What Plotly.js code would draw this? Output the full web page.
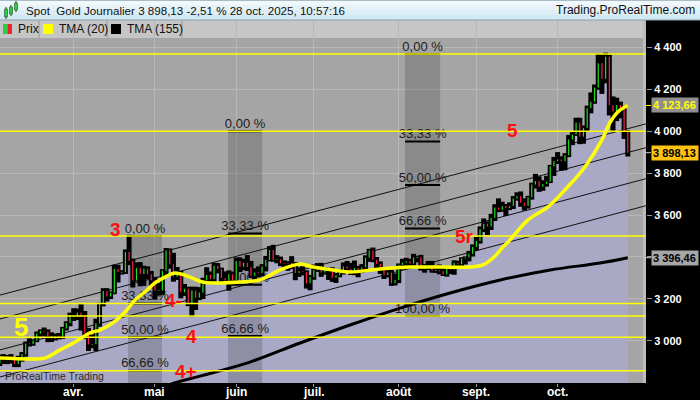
<!DOCTYPE html>
<html><head><meta charset="utf-8">
<script src="https://cdn.plot.ly/plotly-3.0.1.min.js"></script>
<style>html,body{margin:0;padding:0;background:#000;}#chart{width:700px;height:400px;}</style>
</head><body><div id="chart"></div>
<script>
// ---- daily candles, 3 Mar 2025 (index 0) .. 28 Oct 2025 (index 171), one per weekday ----
const openP = [2858,2893,2918,2920,2910,2910,2889,2916,2935,2987,2984,3001,3034,3047,3044,3023,3011,3020,3019,3058,3085,
3123,3114,3134,3114,3037,2982,2983,3083,3175,3237,3211,3229,3343,3327,3327,3424,3381,3288,3348,3319,3344,3317,
3289,3239,3240,3334,3431,3365,3306,3325,3231,3248,3178,3240,3205,3230,3290,3314,3295,3358,3342,3300,3288,3318,
3289,3381,3353,3373,3352,3310,3326,3323,3355,3386,3433,3385,3389,3370,3369,3368,3368,3324,3332,3328,3274,
3303,3338,3357,3326,3337,3334,3301,3313,3324,3355,3344,3324,3347,3339,3350,3397,3431,3387,3368,3337,3314,3326,3274,
3290,3363,3373,3380,3368,3397,3398,3343,3348,3356,3335,3336,3332,3316,3347,3339,3372,3365,3393,3397,3416,
3448,3476,3533,3559,3545,3587,3636,3626,3642,3634,3643,3679,3690,3659,3644,3685,3746,3763,3736,3749,3759,3833,
3858,3866,3857,3886,3961,3985,4042,3975,4017,4110,4142,4209,4325,4251,4356,4125,4095,4126,4112,3998];
const highP = [2893,2928,2930,2926,2930,2915,2922,2940,2990,3005,3001,3038,3048,3057,3048,3034,3028,3031,3060,3087,3128,
3149,3148,3168,3136,3055,3023,3099,3175,3245,3245,3230,3357,3357,3331,3430,3500,3386,3368,3370,3352,3349,3327,
3299,3269,3336,3437,3435,3414,3346,3327,3265,3252,3252,3252,3250,3295,3345,3325,3366,3365,3343,3325,3330,3324,
3392,3392,3385,3403,3375,3340,3349,3360,3399,3446,3452,3403,3396,3378,3374,3398,3370,3345,3350,3330,3308,
3358,3365,3366,3345,3342,3345,3317,3336,3368,3375,3366,3377,3352,3360,3402,3433,3439,3394,3373,3345,3334,3334,3315,
3363,3385,3390,3385,3409,3400,3404,3358,3375,3375,3348,3358,3345,3350,3351,3378,3376,3393,3397,3423,3454,
3490,3540,3578,3564,3600,3646,3674,3658,3647,3655,3685,3703,3707,3674,3686,3749,3791,3779,3761,3782,3834,3872,
3895,3875,3890,3977,3990,4059,4059,4022,4117,4180,4218,4365,4362,4370,4360,4161,4155,4136,4112,4000];
const lowP = [2832,2885,2895,2894,2897,2880,2880,2906,2930,2978,2982,2999,3025,3025,2999,3000,3007,3012,3015,3055,3075,
3100,3105,3054,3015,2957,2970,2957,3073,3170,3193,3205,3228,3284,3322,3325,3367,3260,3288,3266,3268,3300,3268,
3202,3222,3225,3323,3350,3288,3296,3208,3220,3171,3121,3153,3200,3205,3284,3278,3288,3328,3285,3282,3245,3279,
3287,3334,3343,3339,3306,3293,3310,3314,3337,3385,3383,3376,3362,3347,3340,3348,3295,3311,3318,3255,3247,
3297,3335,3311,3322,3296,3287,3282,3309,3322,3341,3320,3319,3309,3330,3340,3383,3381,3351,3325,3301,3308,3268,3270,
3281,3346,3353,3358,3365,3380,3341,3331,3344,3331,3330,3323,3315,3312,3324,3321,3351,3351,3370,3385,3408,
3436,3470,3525,3511,3535,3578,3620,3622,3602,3630,3635,3675,3646,3628,3637,3680,3733,3717,3722,3742,3759,3793,
3850,3818,3820,3883,3940,3984,3945,3947,4008,4092,4138,4205,4185,4235,4082,4004,4055,4068,3970,3886];
const closeP = [2893,2918,2920,2910,2910,2889,2916,2935,2987,2984,3001,3034,3047,3044,3023,3011,3020,3019,3058,3085,3123,
3114,3134,3114,3037,2982,2983,3083,3175,3237,3211,3229,3343,3327,3327,3424,3381,3288,3348,3319,3344,3317,3289,
3239,3240,3334,3431,3365,3306,3325,3231,3248,3178,3240,3205,3230,3290,3314,3295,3358,3342,3300,3288,3318,3289,
3381,3353,3373,3352,3310,3326,3323,3355,3386,3433,3385,3389,3370,3369,3368,3368,3324,3332,3328,3274,3303,
3338,3357,3326,3337,3334,3301,3313,3324,3355,3344,3324,3347,3339,3350,3397,3431,3387,3368,3337,3314,3326,3274,3290,
3363,3373,3380,3368,3397,3398,3343,3348,3356,3335,3336,3332,3316,3347,3339,3372,3365,3393,3397,3416,3448,
3476,3533,3559,3545,3587,3636,3626,3642,3634,3643,3679,3690,3659,3644,3685,3746,3763,3736,3749,3759,3833,3858,
3866,3857,3886,3961,3985,4042,3975,4017,4110,4142,4209,4325,4251,4356,4125,4095,4126,4112,3998,3898.13];

// month ticks (bar index of first trading day)
const monthIdx = [21,43,65,86,109,130,152];
const monthLabels = ['avr.','mai','juin','juil.','août','sept.','oct.'];
const priceTicks = [3000,3200,3400,3600,3800,4000,4200,4400];
const priceTickLabels = ['3 000','3 200','','3 600','3 800','4 000','4 200','4 400'];
const yRange = [2798,4532];

// moving averages (bar index, value)
const tma20X = [1.05,9.2,13.2,17.3,21.4,25.4,28.1,31.6,34.9,37.6,40.3,43,45.7,48.4,52.5,56,60.6,66,71.4,76.9,82.3,85.8,91.2,95.8,103.9,112,120.2,128.3,131.8,134.5,137.2,139.1,144,149.4,154.7,159.4,164,166.1,168.3,171];
const tma20Y = [2917,2913,2917,2956,2994,3037,3051,3085,3137,3194,3233,3276,3304,3323,3304,3280,3276,3280,3290,3338,3367,3352,3338,3328,3343,3352,3352,3352,3362,3395,3448,3481,3577,3639,3734,3830,3959,4040,4093,4123.66];
const tma155X = [47,49.2,55.2,68.7,82.3,95.8,109.4,122.9,136.5,150,163.5,171];
const tma155Y = [2790,2803,2831,2898,2989,3075,3156,3228,3290,3338,3371,3396.46];

// horizontal yellow lines
const hLevels = [4370,4000,3500,3178,3118,3017,2857];

// Fibonacci retracements
const fibLabels = ['0,00 %','33,33 %','50,00 %','66,66 %','100,00 %'];
const fib1Span = [35.7,44.9], fib1Levels = [3500,3178,3017,2857,2535];
const fib2Span = [62.8,72.0], fib2Levels = [4000,3512,3267,3023,2535];
const fib3Span = [110.7,120.2], fib3Levels = [4370,3952,3744,3536,3118];

// channel lines (start/end value at chart left/right edge)
const chanX = [1.05,175.93];
const chanStart = [3218,3104,2956,2827];
const chanEnd = [4036,3922,3774,3645];

// wave labels
const waveText = ['3','4-','4','4+','5','5r','5'];
const waveX = [32.2,47.9,52.8,51.4,6.7,126.7,139.7];
const waveY = [3529,3194,3018,2855,3065,3500,4002];
const waveColor = ['#ff1010','#ff1010','#ff1010','#ff1010','#ffff00','#ff1010','#ff1010'];
const waveSize = [19,19,19,19,26,19,19];

// ---------------- layout helpers ----------------
const W=700,H=400,MR=54,MT=20,MB=17;
const PW=W-MR, PH=H-MT-MB;
const px2x = px => px/PW;
const py2y = py => (H-MB-py)/PH;
const FONT = 'Liberation Sans, Arial, sans-serif';
function fr(v){ const s=v.toFixed(2).split('.'); return s[0].replace(/\B(?=(\d{3})+(?!\d))/g,' ')+','+s[1]; }

const N = closeP.length;
const idx = closeP.map((_,i)=>i);
const traces = [];

// price area
traces.push({type:'scatter',x:idx,y:closeP,mode:'lines',line:{width:0,color:'rgba(0,0,0,0)'},fill:'tozeroy',fillcolor:'#a9a9c6',hoverinfo:'skip'});

// fib bands
[[fib1Span,fib1Levels],[fib2Span,fib2Levels],[fib3Span,fib3Levels]].forEach(([sp,lv])=>{
  const top=lv[0], bot=lv[lv.length-1];
  traces.push({type:'scatter',x:[sp[0],sp[1],sp[1],sp[0],sp[0]],y:[top,top,bot,bot,top],mode:'lines',line:{width:0},fill:'toself',fillcolor:'rgba(45,45,45,0.22)',hoverinfo:'skip'});
});

// channel lines
chanStart.forEach((s,k)=>{
  traces.push({type:'scatter',x:chanX,y:[s,chanEnd[k]],mode:'lines',line:{color:'#111',width:1},hoverinfo:'skip'});
});

// fib level segments + labels (only levels inside the visible range)
[[fib1Span,fib1Levels],[fib2Span,fib2Levels],[fib3Span,fib3Levels]].forEach(([sp,lv])=>{
  const sx=[],sy=[],tx=[],ty=[],tt=[];
  lv.forEach((v,k)=>{ if(v<yRange[0]) return; sx.push(sp[0],sp[1],null); sy.push(v,v,null); tx.push((sp[0]+sp[1])/2); ty.push(v); tt.push(fibLabels[k]); });
  traces.push({type:'scatter',x:sx,y:sy,mode:'lines',line:{color:'#000',width:2},hoverinfo:'skip'});
  traces.push({type:'scatter',x:tx,y:ty,mode:'text',text:tt,textposition:'top center',textfont:{family:FONT,size:13,color:'#1c1c1c'},hoverinfo:'skip'});
});

// candles: black outline column + coloured body
const bx=[],by=[],gx=[],gy=[],rx=[],ry=[];
for(let i=0;i<N;i++){
  bx.push(i,i,null); by.push(lowP[i]-6,highP[i]+6,null);
  let a=Math.min(openP[i],closeP[i]), b=Math.max(openP[i],closeP[i]);
  if(b-a<4){ const m=(a+b)/2; a=m-2; b=m+2; }
  if(closeP[i]>=openP[i]){ gx.push(i,i,null); gy.push(a,b,null); } else { rx.push(i,i,null); ry.push(a,b,null); }
}
traces.push({type:'scatter',x:bx,y:by,mode:'lines',line:{color:'#000',width:5},hoverinfo:'skip'});
traces.push({type:'scatter',x:gx,y:gy,mode:'lines',line:{color:'#1fe01f',width:1.2},hoverinfo:'skip'});
traces.push({type:'scatter',x:rx,y:ry,mode:'lines',line:{color:'#ff1f4f',width:1.2},hoverinfo:'skip'});

// moving averages
traces.push({type:'scatter',x:tma155X,y:tma155Y,mode:'lines',line:{color:'#000',width:3,shape:'spline'},hoverinfo:'skip'});
traces.push({type:'scatter',x:tma20X,y:tma20Y,mode:'lines',line:{color:'#ffff00',width:3.5,shape:'spline'},hoverinfo:'skip'});

// ---------------- shapes ----------------
const shapes = [];
shapes.push({type:'rect',xref:'paper',yref:'paper',x0:0,x1:1,y0:py2y(38),y1:py2y(20),fillcolor:'#c6c6c6',line:{width:0},layer:'below'});
shapes.push({type:'line',xref:'paper',yref:'paper',x0:px2x(644.5),x1:px2x(644.5),y0:0,y1:py2y(20),line:{color:'#bcbcbc',width:3},layer:'below'});
const hdr=['#f1f8fb','#e6f2f8','#dbedf5','#d2e8f2'];
hdr.forEach((c,k)=>shapes.push({type:'rect',xref:'paper',yref:'paper',x0:px2x(0),x1:px2x(700),y0:py2y(5*(k+1)),y1:py2y(5*k),fillcolor:c,line:{width:0},layer:'above'}));
shapes.push({type:'line',xref:'paper',yref:'paper',x0:px2x(0),x1:px2x(700),y0:py2y(20),y1:py2y(20),line:{color:'#8aa0ad',width:1},layer:'above'});
shapes.push({type:'line',xref:'paper',yref:'paper',x0:px2x(0),x1:px2x(700),y0:py2y(0.5),y1:py2y(0.5),line:{color:'#a9bcc6',width:1},layer:'above'});
[[4.5,7.5,9,17],[9.5,12.5,7,14],[14.5,17.5,3,10]].forEach(r=>{
  shapes.push({type:'line',xref:'paper',yref:'paper',x0:px2x((r[0]+r[1])/2),x1:px2x((r[0]+r[1])/2),y0:py2y(r[3]+2),y1:py2y(r[2]-2),line:{color:'#333',width:1},layer:'above'});
  shapes.push({type:'rect',xref:'paper',yref:'paper',x0:px2x(r[0]),x1:px2x(r[1]),y0:py2y(r[3]),y1:py2y(r[2]),fillcolor:'#2ecc40',line:{color:'#1a5a1a',width:0.6},layer:'above'});
});
[39,107,182].forEach(x=>shapes.push({type:'line',xref:'paper',yref:'paper',x0:px2x(x),x1:px2x(x),y0:py2y(38),y1:py2y(20),line:{color:'#9a9a9a',width:1},layer:'above'}));
shapes.push({type:'rect',xref:'paper',yref:'paper',x0:px2x(3),x1:px2x(7.5),y0:py2y(34),y1:py2y(24),fillcolor:'#2ecc40',line:{width:0},layer:'above'});
shapes.push({type:'rect',xref:'paper',yref:'paper',x0:px2x(7.5),x1:px2x(12),y0:py2y(34),y1:py2y(24),fillcolor:'#ee2233',line:{width:0},layer:'above'});
shapes.push({type:'rect',xref:'paper',yref:'paper',x0:px2x(43),x1:px2x(53),y0:py2y(34),y1:py2y(24),fillcolor:'#ffff00',line:{width:0},layer:'above'});
shapes.push({type:'rect',xref:'paper',yref:'paper',x0:px2x(111),x1:px2x(121),y0:py2y(34),y1:py2y(24),fillcolor:'#000',line:{width:0},layer:'above'});
hLevels.forEach(v=>shapes.push({type:'line',xref:'paper',yref:'y',x0:0,x1:1,y0:v,y1:v,line:{color:'#ffff00',width:1.5},layer:'above'}));

// ---------------- annotations ----------------
const ann = [];
ann.push({xref:'paper',yref:'paper',x:px2x(24),y:py2y(10.5),xanchor:'left',yanchor:'middle',showarrow:false,
  text:'Spot\u00a0 Gold Journalier 3 898,13 -2,51 % 28 oct. 2025, 10:57:16',font:{family:FONT,size:11.6,color:'#111'}});
ann.push({xref:'paper',yref:'paper',x:px2x(697),y:py2y(10.5),xanchor:'right',yanchor:'middle',showarrow:false,
  text:'Trading.ProRealTime.com',font:{family:FONT,size:12,color:'#111'}});
[['Prix',16],['TMA (20)',57],['TMA (155)',125]].forEach(([t,x])=>ann.push({xref:'paper',yref:'paper',x:px2x(x),y:py2y(29.5),xanchor:'left',yanchor:'middle',showarrow:false,text:t,font:{family:FONT,size:12,color:'#111'}}));
ann.push({xref:'paper',yref:'paper',x:px2x(3),y:py2y(376),xanchor:'left',yanchor:'middle',showarrow:false,text:'ProRealTime Trading',font:{family:FONT,size:10.5,color:'#2a2a2a'}});
waveText.forEach((t,k)=>ann.push({xref:'x',yref:'y',x:waveX[k],y:waveY[k],showarrow:false,text:t,font:{family:FONT,size:waveSize[k],color:waveColor[k],weight:'bold'}}));
monthIdx.forEach((m,k)=>ann.push({xref:'x',yref:'paper',x:m,y:py2y(392),xanchor:'center',yanchor:'middle',showarrow:false,text:monthLabels[k],font:{family:FONT,size:12,color:'#fff',weight:'bold'}}));
const tags = [
  [tma20Y[tma20Y.length-1],'#ffff00','#8f8f8f'],
  [closeP[N-1],'#000','#ffc20e'],
  [tma155Y[tma155Y.length-1],'#000','#a6a6a6']
];
tags.forEach(([v,fc,bg])=>{
  ann.push({xref:'paper',yref:'y',x:px2x(651),y:v,xanchor:'left',yanchor:'middle',showarrow:false,text:fr(v),
    font:{family:FONT,size:11,color:fc,weight:'bold'},bgcolor:bg,borderpad:1,width:44,align:'left'});
  shapes.push({type:'line',xref:'paper',yref:'y',x0:px2x(646),x1:px2x(651),y0:v,y1:v,line:{color:fc==='#ffff00'?'#ffff00':'#cccccc',width:1},layer:'above'});
});

const layout = {
  width:W,height:H,margin:{l:0,r:MR,t:MT,b:MB,pad:0},
  paper_bgcolor:'#000',plot_bgcolor:'#a5a5a5',showlegend:false,
  xaxis:{range:[1.05,175.93],tickvals:monthIdx,ticktext:monthLabels,showticklabels:false,showgrid:true,gridcolor:'#b7b7b7',gridwidth:1,
    zeroline:false,showline:false,ticks:'outside',ticklen:3,tickcolor:'#9a9a9a',fixedrange:true},
  yaxis:{side:'right',range:yRange,tickvals:priceTicks,ticktext:priceTickLabels,showgrid:true,gridcolor:'#b7b7b7',gridwidth:1,
    zeroline:false,showline:false,ticks:'outside',ticklen:5,tickcolor:'#9a9a9a',
    tickfont:{family:FONT,size:11,color:'#fff',weight:'bold'},fixedrange:true},
  shapes:shapes,annotations:ann
};
Plotly.newPlot('chart',traces,layout,{displayModeBar:false,staticPlot:true});
</script></body></html>
